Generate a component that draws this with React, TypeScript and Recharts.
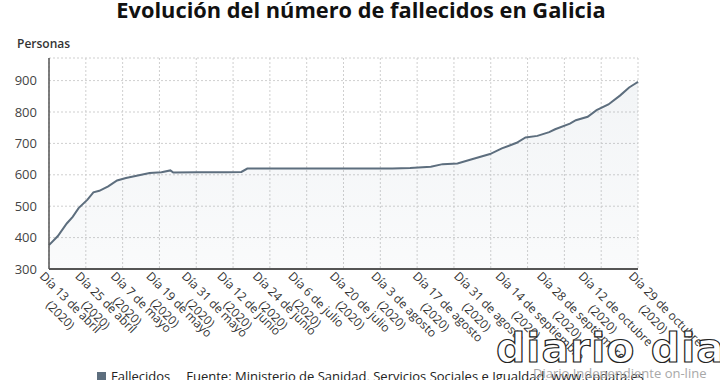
import { AreaChart, Area, XAxis, YAxis, CartesianGrid } from "recharts";

// días desde el 13 de abril de 2020
const days = [
	0, 3, 6, 8, 10, 13, 15, 17, 20, 23, 26, 30, 34, 38, 41, 42, 50, 60, 65, 67,
	110, 116, 122, 129, 133, 138, 142, 149, 153, 158, 161, 165, 169, 171, 176,
	178, 182, 185, 189, 193, 196, 198, 199,
];
const fallecidos = [
	376, 405, 445, 466, 494, 521, 544, 549, 563, 582, 590, 598, 606, 608, 614,
	607, 608, 608, 609, 620, 620, 620, 622, 626, 634, 636, 647, 666, 684, 702,
	719, 724, 736, 745, 763, 774, 785, 806, 824, 853, 878, 890, 896,
];

const tickDays = [0, 12, 24, 36, 48, 60, 72, 84, 98, 112, 126, 140, 154, 168, 182, 199];
const tickLabels = [
	"Día 13 de abril",
	"Día 25 de abril",
	"Día 7 de mayo",
	"Día 19 de mayo",
	"Día 31 de mayo",
	"Día 12 de junio",
	"Día 24 de junio",
	"Día 6 de julio",
	"Día 20 de julio",
	"Día 3 de agosto",
	"Día 17 de agosto",
	"Día 31 de agosto",
	"Día 14 de septiembre",
	"Día 28 de septiembre",
	"Día 12 de octubre",
	"Día 29 de octubre",
];
const yTicks = [300, 400, 500, 600, 700, 800, 900];

const data = days.map((d, i) => ({ day: d, value: fallecidos[i] }));

const FONT = "'Open Sans', 'DejaVu Sans', sans-serif";
const LINE = "#5d6e7e";

function XTick(props: any) {
	const { x, y, payload } = props;
	const idx = tickDays.indexOf(payload.value);
	const txt = idx >= 0 ? tickLabels[idx] : "";
	const half = (txt.length * 5.6) / 2;
	return (
		<g transform={`translate(${x - 10},${y}) rotate(45)`}>
			<text fontSize={12} fill="#333" fontFamily={FONT}>
				<tspan x={0} dy={0}>{txt}</tspan>
				<tspan x={half} dy={16} textAnchor="middle">(2020)</tspan>
			</text>
		</g>
	);
}

export default function App() {
	return (
		<div
			style={{
				position: "absolute",
				left: 0,
				top: 0,
				width: 720,
				height: 380,
				overflow: "hidden",
				background: "#fff",
				fontFamily: FONT,
			}}
		>
			<div
				style={{
					position: "absolute",
					left: 17,
					top: 35,
					fontSize: 12,
					fontWeight: 600,
					color: "#333",
				}}
			>
				Personas
			</div>
			<AreaChart
				width={720}
				height={380}
				data={data}
				margin={{ top: 58, right: 82, left: 0, bottom: 11 }}
			>
				<defs>
					<linearGradient id="fillArea" x1="0" y1="0" x2="0" y2="1">
						<stop offset="0%" stopColor="#6a8399" stopOpacity={0.14} />
						<stop offset="100%" stopColor="#6a8399" stopOpacity={0.06} />
					</linearGradient>
				</defs>
				<CartesianGrid
					stroke="#cfcfcf"
					strokeDasharray="2 2"
					verticalCoordinatesGenerator={({ offset }: any) =>
						Array.from({ length: 17 }, (_, i) => offset.left + (i * offset.width) / 16)
					}
				/>
				<XAxis
					dataKey="day"
					type="number"
					domain={[0, 199]}
					ticks={tickDays}
					interval={0}
					height={100}
					tickLine={false}
					tickSize={0}
					tickMargin={8}
					axisLine={{ stroke: "#555", strokeWidth: 2 }}
					tick={<XTick />}
				/>
				<YAxis
					domain={[300, 972]}
					ticks={yTicks}
					allowDataOverflow
					width={49}
					tickLine={false}
					tickMargin={6}
					axisLine={{ stroke: "#555", strokeWidth: 1.5 }}
					tick={{ fontSize: 13, fill: "#444", fontFamily: FONT }}
				/>
				<Area
					type="linear"
					dataKey="value"
					stroke={LINE}
					strokeWidth={2}
					fill="url(#fillArea)"
					isAnimationActive={false}
					dot={false}
				/>
			</AreaChart>
			<div
				style={{
					position: "absolute",
					left: 97,
					top: 367,
					fontSize: 13,
					color: "#222",
					whiteSpace: "nowrap",
				}}
			>
				<span
					style={{
						display: "inline-block",
						width: 9,
						height: 9,
						background: LINE,
						marginRight: 5,
					}}
				/>
				Fallecidos
				<span style={{ marginLeft: 16 }}>
					Fuente: Ministerio de Sanidad, Servicios Sociales e Igualdad, www.epdata.es
				</span>
			</div>
			<svg
				width={720}
				height={380}
				style={{ position: "absolute", left: 0, top: 0, pointerEvents: "none" }}
			>
				<text
					x={361}
					y={18}
					textAnchor="middle"
					fontSize={21.8}
					fontWeight={700}
					fill="#111"
					fontFamily={FONT}
				>
					Evolución del número de fallecidos en Galicia
				</text>
				<text
					x={533}
					y={378}
					fontSize={13}
					fill="#a8a8a8"
					fontFamily={FONT}
				>
					Diario Independiente on-line
				</text>
				<text
					x={496}
					y={362}
					fontSize={41}
					fontWeight={700}
					fill="#fff"
					stroke="#222"
					strokeWidth={1.2}
					letterSpacing={1}
					fontFamily="'DejaVu Sans', sans-serif"
				>
					diario dia
				</text>
			</svg>
		</div>
	);
}
